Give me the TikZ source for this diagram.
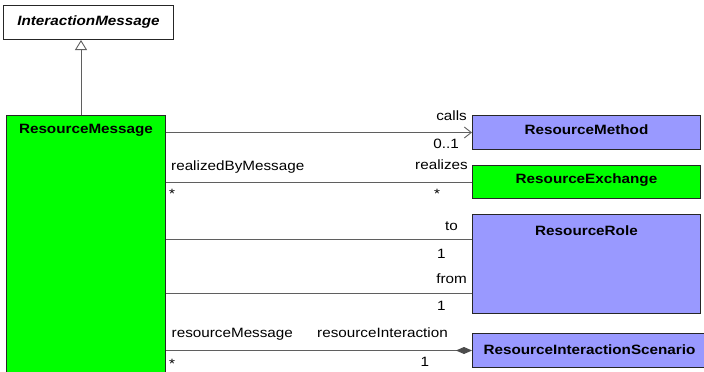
\documentclass[tikz,border=0pt]{standalone}
\usepackage{fontspec}
\setmainfont{Liberation Sans}[FakeStretch=1.13]
\usetikzlibrary{arrows.meta}
\usetikzlibrary{calc}
\definecolor{classblue}{RGB}{153,153,255}
\definecolor{classgreen}{RGB}{0,255,0}
\definecolor{linegray}{RGB}{95,95,95}

\tikzset{
  umlclass/.style={draw=black!85, line width=1pt, anchor=north west, inner sep=0pt},
  classname/.style={font=\fontsize{13.5}{15}\selectfont\bfseries, inner sep=0pt, anchor=north},
  assoc/.style={draw=linegray, line width=0.9pt},
  rolelbl/.style={font=\fontsize{13.5}{15}\selectfont, inner sep=0pt},
}

\begin{document}
\begin{tikzpicture}[x=1pt, y=-1pt]
    \useasboundingbox (0,0) rectangle (704,372);

    % Classes
    \node[umlclass, fill=white, minimum width=170pt, minimum height=34pt,
          label={[classname, font=\fontsize{13.5}{15}\selectfont\bfseries\itshape, yshift=-11pt]north:InteractionMessage}]
          (iface) at (3,5) {};
    \node[umlclass, fill=classgreen, minimum width=159pt, minimum height=270pt,
          label={[classname, yshift=-9pt]north:ResourceMessage}] (msg) at (6,115) {};
    \node[umlclass, fill=classblue, minimum width=228pt, minimum height=34pt,
          label={[classname, yshift=-10pt]north:ResourceMethod}] (meth) at (472,115) {};
    \node[umlclass, fill=classgreen, minimum width=228pt, minimum height=33pt,
          label={[classname, yshift=-9pt]north:ResourceExchange}] (exch) at (472,165) {};
    \node[umlclass, fill=classblue, minimum width=228pt, minimum height=99pt,
          label={[classname, yshift=-12pt]north:ResourceRole}] (role) at (472,214) {};
    \node[umlclass, fill=classblue, minimum width=234pt, minimum height=34pt,
          label={[classname, yshift=-12pt]north:ResourceInteractionScenario}] (scen) at (472,333) {};

    % Generalization
    \draw[assoc, -{Triangle[open, length=10pt, width=12pt]}]
        (msg.north west) ++(75,0) coordinate (gen) -- (gen |- iface.south);

    % Associations
    \draw[assoc, -{Straight Barb[length=7pt, width=11pt]}] (msg.east |- meth.west) -- (meth.west);
    \draw[assoc] (msg.east |- exch.west) -- (exch.west);
    \coordinate (toEnd) at ($(role.north west)+(0,25)$);
    \coordinate (fromEnd) at ($(role.north west)+(0,79)$);
    \draw[assoc] (msg.east |- toEnd) -- (toEnd);
    \draw[assoc] (msg.east |- fromEnd) -- (fromEnd);
    \draw[assoc, -{Diamond[length=16pt, width=7pt, color=black!70]}] (msg.east |- scen.west) -- (scen.west);

    % Role names and multiplicities
    \node[rolelbl, anchor=base east] (callsLbl) at (467,120) {calls};
    \node[rolelbl, anchor=base east] (callsMult) at (459,148.5) {0..1};
    \node[rolelbl, anchor=base west] (realizedLbl) at (171,170) {realizedByMessage};
    \node[rolelbl, anchor=base west] (realizedMult) at (169,198) {*};
    \node[rolelbl, anchor=base east] (realizesLbl) at (468,169) {realizes};
    \node[rolelbl, anchor=base] (realizesMult) at (437,198) {*};
    \node[rolelbl, anchor=base east] (toLbl) at (458,230.5) {to};
    \node[rolelbl, anchor=base west] (toMult) at (437,258) {1};
    \node[rolelbl, anchor=base east] (fromLbl) at (467,283) {from};
    \node[rolelbl, anchor=base west] (fromMult) at (437,310.5) {1};
    \node[rolelbl, anchor=base west] (msgLbl) at (171.5,337.5) {resourceMessage};
    \node[rolelbl, anchor=base west] (msgMult) at (169,368) {*};
    \node[rolelbl, anchor=base east] (interLbl) at (448,337.5) {resourceInteraction};
    \node[rolelbl, anchor=base west] (interMult) at (420.5,366.5) {1};
\end{tikzpicture}
\end{document}
